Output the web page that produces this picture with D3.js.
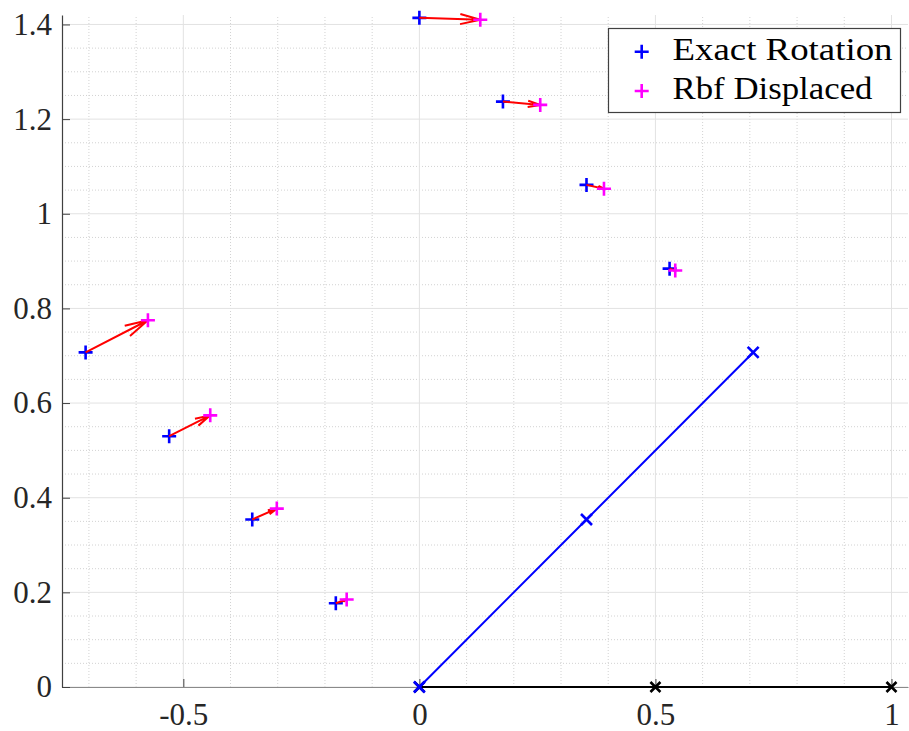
<!DOCTYPE html>
<html>
<head>
<meta charset="utf-8">
<script src="https://cdn.jsdelivr.net/npm/d3@7"></script>
<style>
  html, body { margin: 0; padding: 0; background: #fff; }
  svg { display: block; }
  svg text { font-family: "Liberation Serif", "Times New Roman", serif !important; }
</style>
</head>
<body>
<svg id="chart" width="909" height="731"></svg>
<script>
// Exact rotated positions (45 degree rotation of the boundary nodes)
const exactX = [0.000, 0.177, 0.354, 0.530, -0.707, -0.530, -0.354, -0.177];
const exactY = [1.414, 1.237, 1.061, 0.884, 0.707, 0.530, 0.354, 0.177];
// Positions produced by the RBF displacement
const rbfX = [0.129, 0.256, 0.391, 0.542, -0.575, -0.443, -0.302, -0.154];
const rbfY = [1.410, 1.230, 1.053, 0.880, 0.775, 0.574, 0.377, 0.185];
// Reference beam before and after rotation
const baseX = [0, 0.5, 1];
const baseY = [0, 0, 0];
const rotX = [0, 0.354, 0.707];
const rotY = [0, 0.354, 0.707];
// Axis ticks
const xTicks = [-0.5, 0, 0.5, 1];
const xTickLabels = ["-0.5", "0", "0.5", "1"];
const yTicks = [0, 0.2, 0.4, 0.6, 0.8, 1, 1.2, 1.4];
const yTickLabels = ["0", "0.2", "0.4", "0.6", "0.8", "1", "1.2", "1.4"];
const legendLabels = ["Exact Rotation", "Rbf Displaced"];

const serif = '"Liberation Serif", "Times New Roman", serif';
const svg = d3.select("#chart");
const x = d3.scaleLinear().domain([-0.757, 1.035]).range([62, 908]);
const y = d3.scaleLinear().domain([0, 1.42]).range([687, 15]);
const [x0, x1] = x.range();
const [y0, y1] = y.range();

// minor grid (dotted)
const isMajor = (v, arr) => arr.some(t => Math.abs(t - v) < 1e-6);
const xMinor = d3.range(-7, 11).map(i => i / 10).filter(v => !isMajor(v, xTicks));
const yMinor = d3.range(0, 29).map(i => i / 20).filter(v => !isMajor(v, yTicks));
const grid = svg.append("g");
grid.selectAll("line.xm").data(xMinor).join("line")
  .attr("x1", d => x(d)).attr("x2", d => x(d)).attr("y1", y0).attr("y2", y1)
  .attr("stroke", "#d2d2d2").attr("stroke-width", 1).attr("stroke-dasharray", "1,2");
grid.selectAll("line.ym").data(yMinor).join("line")
  .attr("y1", d => y(d)).attr("y2", d => y(d)).attr("x1", x0).attr("x2", x1)
  .attr("stroke", "#d2d2d2").attr("stroke-width", 1).attr("stroke-dasharray", "1,2");
// major grid
grid.selectAll("line.xM").data(xTicks).join("line")
  .attr("x1", d => x(d)).attr("x2", d => x(d)).attr("y1", y0).attr("y2", y1)
  .attr("stroke", "#e2e2e2").attr("stroke-width", 1);
grid.selectAll("line.yM").data(yTicks).join("line")
  .attr("y1", d => y(d)).attr("y2", d => y(d)).attr("x1", x0).attr("x2", x1)
  .attr("stroke", "#e2e2e2").attr("stroke-width", 1);

// axes
const xAxis = d3.axisBottom(x).tickValues(xTicks).tickFormat((d, i) => xTickLabels[i])
  .tickSizeInner(-8).tickSizeOuter(0).tickPadding(16);
const gx = svg.append("g").attr("transform", `translate(0,${y0})`).call(xAxis)
  .attr("font-family", null);
gx.select(".domain").attr("stroke", "#8a8a8a").attr("stroke-width", 1.2);
gx.selectAll(".tick line").attr("stroke", "#404040");
gx.selectAll(".tick text").style("font-size", "31px").style("font-family", serif)
  .attr("fill", "#262626");

const yAxis = d3.axisLeft(y).tickValues(yTicks).tickFormat((d, i) => yTickLabels[i])
  .tickSizeInner(-8).tickSizeOuter(0).tickPadding(10);
const gy = svg.append("g").attr("transform", `translate(${x0},0)`).call(yAxis)
  .attr("font-family", null);
gy.select(".domain").attr("stroke", "#404040").attr("stroke-width", 1.2);
gy.selectAll(".tick line").attr("stroke", "#404040");
gy.selectAll(".tick text").style("font-size", "31px").style("font-family", serif)
  .attr("fill", "#262626");

const line = d3.line().x(d => x(d[0])).y(d => y(d[1]));

// x-shaped marker
function crossX(g, px, py, r, color) {
  g.append("path")
    .attr("d", `M${px - r},${py - r}L${px + r},${py + r}M${px - r},${py + r}L${px + r},${py - r}`)
    .attr("stroke", color).attr("stroke-width", 2.6).attr("fill", "none");
}
// plus-shaped marker
function plus(g, px, py, r, color) {
  g.append("path")
    .attr("d", `M${px - r},${py}L${px + r},${py}M${px},${py - r}L${px},${py + r}`)
    .attr("stroke", color).attr("stroke-width", 2.6).attr("fill", "none");
}

const marks = svg.append("g");
// undeformed beam
marks.append("path").datum(baseX.map((v, i) => [v, baseY[i]])).attr("d", line)
  .attr("stroke", "#000").attr("stroke-width", 2).attr("fill", "none");
baseX.forEach((v, i) => crossX(marks, x(v), y(baseY[i]), 5, "#000"));
// rotated beam
marks.append("path").datum(rotX.map((v, i) => [v, rotY[i]])).attr("d", line)
  .attr("stroke", "#0000ff").attr("stroke-width", 2).attr("fill", "none");
rotX.forEach((v, i) => crossX(marks, x(v), y(rotY[i]), 5.5, "#0000ff"));

// exact positions
exactX.forEach((v, i) => plus(marks, x(v), y(exactY[i]), 7, "#0000ff"));

// displacement arrows (quiver style, open heads)
const alpha = 0.33, beta = 0.25;
exactX.forEach((v, i) => {
  const u = rbfX[i] - v, w = rbfY[i] - exactY[i];
  const tx = rbfX[i], ty = rbfY[i];
  const h1 = [tx - alpha * (u + beta * w), ty - alpha * (w - beta * u)];
  const h2 = [tx - alpha * (u - beta * w), ty - alpha * (w + beta * u)];
  marks.append("path")
    .attr("d", `M${x(v)},${y(exactY[i])}L${x(tx)},${y(ty)}M${x(h1[0])},${y(h1[1])}L${x(tx)},${y(ty)}L${x(h2[0])},${y(h2[1])}`)
    .attr("stroke", "#ff0000").attr("stroke-width", 2).attr("fill", "none")
    .attr("stroke-linejoin", "miter");
});

// displaced positions
rbfX.forEach((v, i) => plus(marks, x(v), y(rbfY[i]), 7, "#ff00ff"));

// legend
const lg = svg.append("g");
lg.append("rect").attr("x", 608.5).attr("y", 28.5).attr("width", 292).attr("height", 84)
  .attr("fill", "#fff").attr("stroke", "#404040").attr("stroke-width", 1.2);
const legendColors = ["#0000ff", "#ff00ff"];
legendLabels.forEach((lab, i) => {
  const cy = 51.7 + i * 39.3;
  plus(lg, 641.7, cy, 7, legendColors[i]);
  lg.append("text").attr("x", 672.5).attr("y", cy + 7.8)
    .style("font-size", "32px").style("font-family", serif).attr("fill", "#000")
    .attr("textLength", i === 0 ? 220 : 200).attr("lengthAdjust", "spacingAndGlyphs")
    .text(lab);
});
</script>
</body>
</html>
